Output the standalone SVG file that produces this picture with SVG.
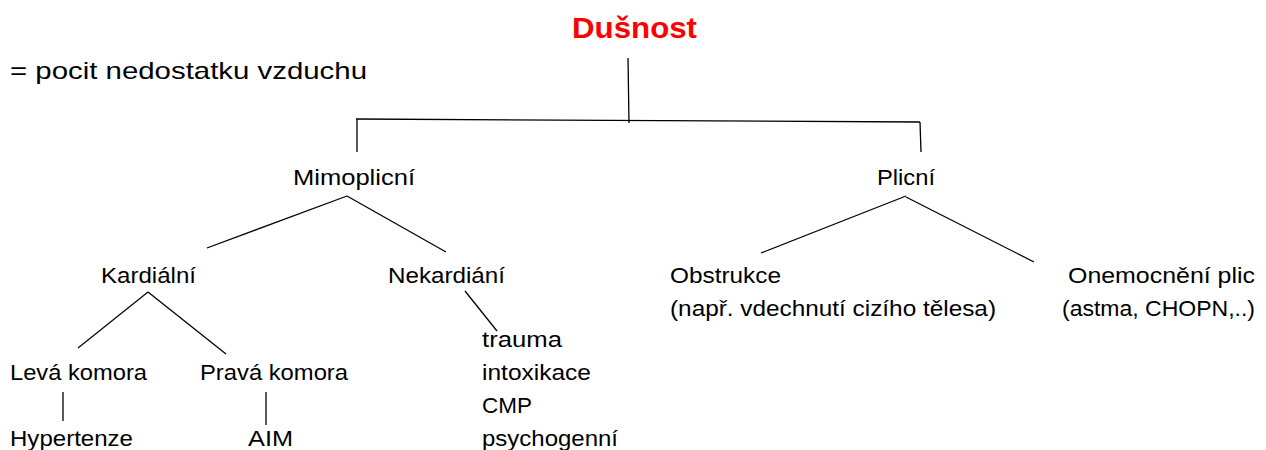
<svg xmlns="http://www.w3.org/2000/svg" width="1266" height="450" viewBox="0 0 1266 450">
<style>
text{font-family:"Liberation Sans",Arial,sans-serif;font-size:22px;fill:#000}
.def{font-size:24px}
.title{font-weight:bold;font-size:29px;fill:#ff0000}
.c line{stroke:#000;stroke-width:1.3;fill:none}
</style>
<rect width="1266" height="450" fill="#fff"/>
<g id="definition"><text class="def" x="10" y="79" textLength="357" lengthAdjust="spacingAndGlyphs">= pocit nedostatku vzduchu</text></g>
<g id="dusnost"><text class="title" x="572" y="38" textLength="125" lengthAdjust="spacingAndGlyphs">Dušnost</text></g>
<g id="mimoplicni"><text x="293" y="185" textLength="122" lengthAdjust="spacingAndGlyphs">Mimoplicní</text></g>
<g id="plicni"><text x="877" y="185" textLength="58" lengthAdjust="spacingAndGlyphs">Plicní</text></g>
<g id="kardialni"><text x="101" y="283" textLength="95" lengthAdjust="spacingAndGlyphs">Kardiální</text></g>
<g id="nekardiani"><text x="388" y="283" textLength="117" lengthAdjust="spacingAndGlyphs">Nekardiání</text></g>
<g id="nekardiani-list">
<text x="482" y="347" textLength="80" lengthAdjust="spacingAndGlyphs">trauma</text>
<text x="482" y="380" textLength="109" lengthAdjust="spacingAndGlyphs">intoxikace</text>
<text x="482" y="413" textLength="50" lengthAdjust="spacingAndGlyphs">CMP</text>
<text x="482" y="446" textLength="136" lengthAdjust="spacingAndGlyphs">psychogenní</text>
</g>
<g id="leva"><text x="10" y="380" textLength="137" lengthAdjust="spacingAndGlyphs">Levá komora</text></g>
<g id="prava"><text x="200" y="380" textLength="148" lengthAdjust="spacingAndGlyphs">Pravá komora</text></g>
<g id="hypertenze"><text x="10" y="446" textLength="123" lengthAdjust="spacingAndGlyphs">Hypertenze</text></g>
<g id="aim"><text x="248" y="446" textLength="45" lengthAdjust="spacingAndGlyphs">AIM</text></g>
<g id="obstrukce">
<text x="670" y="283" textLength="111" lengthAdjust="spacingAndGlyphs">Obstrukce</text>
<text x="670" y="316" textLength="326" lengthAdjust="spacingAndGlyphs">(např. vdechnutí cizího tělesa)</text>
</g>
<g id="onemocneni">
<text x="1068" y="283" textLength="187" lengthAdjust="spacingAndGlyphs">Onemocnění plic</text>
<text x="1062" y="316" textLength="193" lengthAdjust="spacingAndGlyphs">(astma, CHOPN,..)</text>
</g>
<g id="connectors" class="c">
<line x1="628" y1="58" x2="629" y2="123"/>
<line x1="356" y1="119" x2="920" y2="122"/>
<line x1="357" y1="119" x2="357" y2="152"/>
<line x1="920" y1="122" x2="921" y2="152"/>
<line x1="347" y1="196" x2="207" y2="248"/>
<line x1="347" y1="196" x2="446" y2="252"/>
<line x1="148" y1="292" x2="78" y2="348"/>
<line x1="148" y1="292" x2="226" y2="354"/>
<line x1="465" y1="291" x2="497" y2="331"/>
<line x1="63" y1="392" x2="63" y2="421"/>
<line x1="266" y1="392" x2="266" y2="425"/>
<line x1="906" y1="196" x2="761" y2="253"/>
<line x1="906" y1="197" x2="1034" y2="262"/>
</g>
</svg>
